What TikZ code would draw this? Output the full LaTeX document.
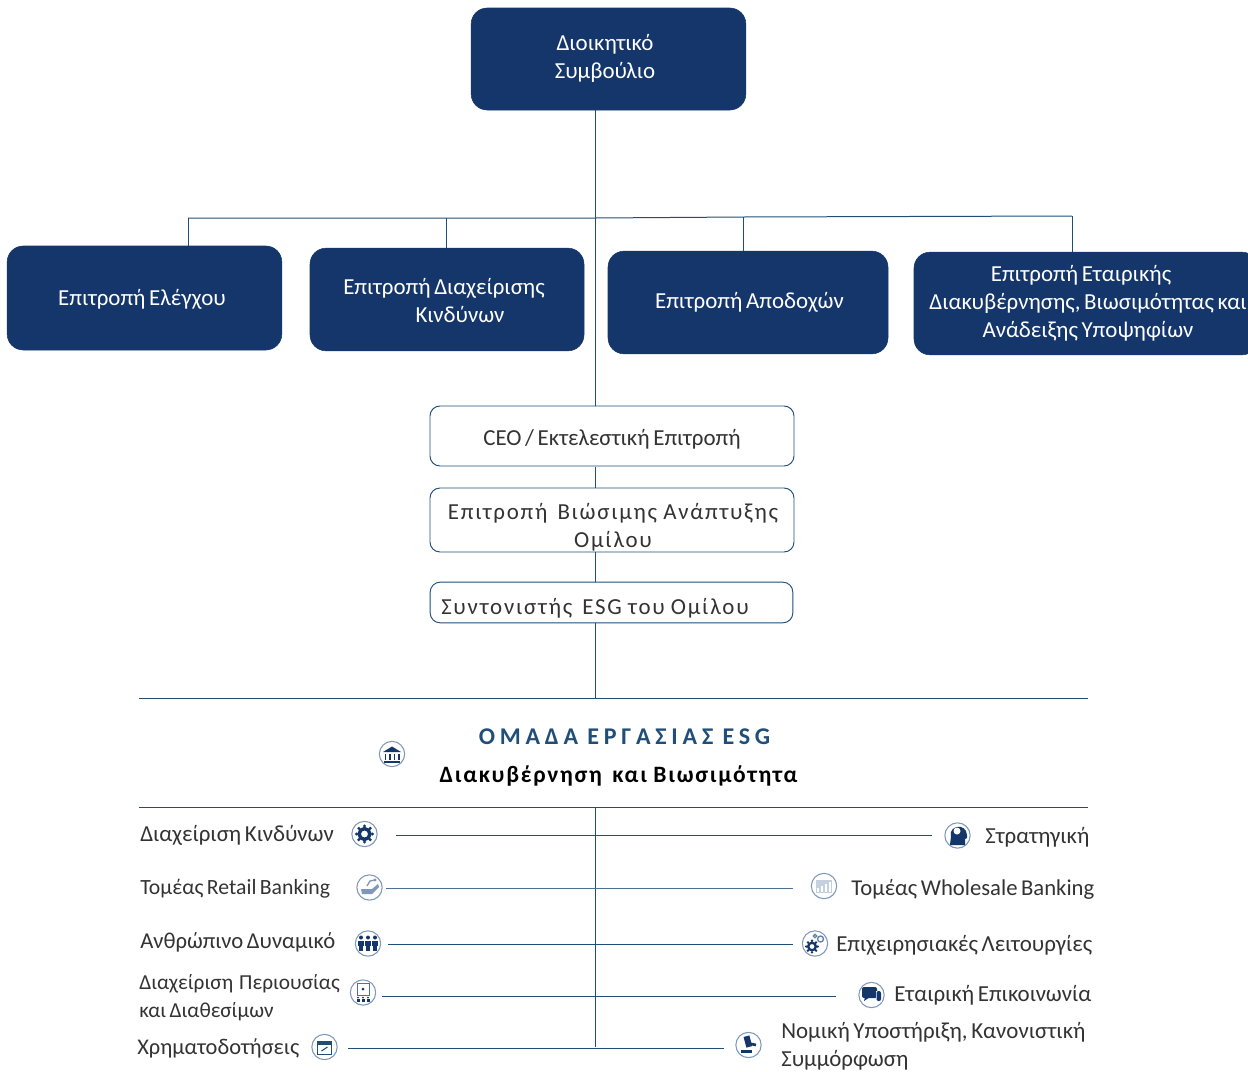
\documentclass[tikz,border=0pt]{standalone}
\usepackage{fontspec}
\setmainfont[WordSpace=0.7]{Carlito}
\newfontfamily\spacedfont[LetterSpace=7.5,WordSpace=0.9]{Carlito}
\newfontfamily\boldspaced[LetterSpace=7.5,WordSpace=0.9,BoldFont=Carlito Bold]{Carlito}
\newfontfamily\widefont[LetterSpace=20,WordSpace=0.9]{Carlito}
\definecolor{navy}{HTML}{14366B}
\definecolor{linec}{HTML}{1F4E79}
\definecolor{ringc}{HTML}{7F97B8}
\definecolor{textc}{HTML}{333333}
\newcommand{\bodysize}{\fontsize{17.2}{21}\selectfont}
\newcommand{\smallsize}{\fontsize{16}{21}\selectfont}
\begin{document}
\begin{tikzpicture}[x=0.75pt,y=-0.75pt,
  darkbox/.style={rectangle,rounded corners=12pt,fill=navy,draw=navy,text=white,align=center,inner sep=0pt,font=\bodysize},
  lightbox/.style={rectangle,rounded corners=7.5pt,fill=white,draw=linec,line width=0.7pt,text=textc,align=center,inner sep=0pt,font=\bodysize},
  conn/.style={draw=linec,line width=0.75pt},
  whitetext/.style={text=white,align=center,inner sep=0pt,font=\bodysize,yshift=-1pt},
  darktext/.style={text=textc,align=center,inner sep=0pt,yshift=-1pt},
  rowlabel/.style={text=textc,align=left,inner sep=0pt,font=\bodysize,yshift=-1pt},
  ring/.style={circle,draw=ringc,fill=white,line width=0.8pt,minimum size=19pt,inner sep=0pt},
  ico/.style={fill=navy,draw=none}]
\useasboundingbox (0,0) rectangle (1248,1071);
\coordinate (trunkA) at (595.5,218);
\coordinate (hL) at (188,218);
\coordinate (hR) at (1072,216);
\coordinate (c2) at (446,218);
\coordinate (c3) at (743,217);
\node[darkbox,minimum width=206pt,minimum height=76.5pt] (board) at (608.5,59) {};
\node[whitetext] (t0) at (605,57) {Διοικητικό\\Συμβούλιο};
\node[darkbox,minimum width=206pt,minimum height=78pt] (elegxou) at (144.5,298) {};
\node[darkbox,minimum width=205.5pt,minimum height=77pt] (kindynon) at (447,299.5) {};
\node[darkbox,minimum width=210pt,minimum height=77pt] (apodoxon) at (748,302.5) {};
\node[darkbox,minimum width=258pt,minimum height=77pt] (etairikis) at (1086,303.5) {};
\node[whitetext] (t1) at (142,298) {Επιτροπή Ελέγχου};
\node[whitetext] (t2) at (444,299) {Επιτροπή Διαχείρισης\\\hspace*{24pt}Κινδύνων};
\node[whitetext] (t3) at (749.5,301) {Επιτροπή Αποδοχών};
\node[whitetext] (t4) at (1088,302) {Επιτροπή Εταιρικής\hspace*{10.5pt}\\Διακυβέρνησης, Βιωσιμότητας και\\Ανάδειξης Υποψηφίων};
\node[lightbox,minimum width=273pt,minimum height=45pt] (ceo) at (612,436) {};
\node[darktext,font=\bodysize] (tceo) at (612,438) {CEO / Εκτελεστική Επιτροπή};
\node[lightbox,minimum width=273pt,minimum height=48pt] (sust) at (612,520) {};
\node[darktext,font=\bodysize\spacedfont] (tsust) at (613,526) {Επιτροπή\hspace{3pt} Βιώσιμης Ανάπτυξης\\Ομίλου};
\node[lightbox,minimum width=272pt,minimum height=30.5pt] (esg) at (611.5,602.5) {};
\node[darktext,anchor=west,font=\bodysize\spacedfont] (tesg) at (441,607) {Συντονιστής\hspace{3pt} ESG του Ομίλου};
\coordinate (boardS) at (595.5,110);
\coordinate (ceoN) at (595.5,406);
\draw[conn] (boardS) -- (ceoN);
\draw[conn] (hL) -- (trunkA) -- (c3) -- (hR);
\draw[conn] (hL) -- (188,246);
\draw[conn] (c2) -- (446,248);
\draw[conn] (c3) -- (743,251);
\draw[conn] (hR) -- (1072,252);
\draw[conn] (595.5,466.5) -- (595.5,488);
\draw[conn] (595.5,552) -- (595.5,582);
\coordinate (ruleJ) at (595.5,698);
\draw[conn] (595.5,623) -- (ruleJ);
\coordinate (r1a) at (139,698); \coordinate (r1b) at (1088,698);
\coordinate (r2a) at (139,807); \coordinate (r2b) at (1088,807);
\draw[conn] (r1a) -- (r1b);
\draw[conn] (r2a) -- (r2b);
\coordinate (spineT) at (595.5,807); \coordinate (spineB) at (595.5,1047);
\draw[conn] (spineT) -- (spineB);
% heading
\node[text=linec,inner sep=0pt,yshift=-0.5pt,font=\fontsize{18}{21}\selectfont\bfseries\widefont] (h1) at (624.5,736) {ΟΜΑΔΑ ΕΡΓΑΣΙΑΣ ESG};
\node[text=black,inner sep=0pt,yshift=-1pt,font=\fontsize{17.6}{21}\selectfont\boldspaced\bfseries] (h2) at (618.5,775) {Διακυβέρνηση\hspace{3pt} και Βιωσιμότητα};
% left labels
\node[rowlabel,anchor=west] (l1) at (140,834) {Διαχείριση Κινδύνων};
\node[rowlabel,anchor=west,font=\fontsize{16.3}{21}\selectfont] (l2) at (140,887) {Τομέας Retail Banking};
\node[rowlabel,anchor=west,font=\fontsize{17}{21}\selectfont] (l3) at (140,941) {Ανθρώπινο Δυναμικό};
\node[rowlabel,anchor=west,font=\smallsize] (l4) at (139,996.5) {Διαχείριση\hspace{2pt} Περιουσίας\\και Διαθεσίμων};
\node[rowlabel,anchor=west,font=\fontsize{16.8}{21}\selectfont] (l5) at (137,1047) {Χρηματοδοτήσεις};
% right labels
\node[rowlabel,anchor=west] (r1) at (985,835.5) {Στρατηγική};
\node[rowlabel,anchor=west,font=\fontsize{17}{21}\selectfont] (r2) at (851,888) {Τομέας Wholesale Banking};
\node[rowlabel,anchor=west] (r3) at (836,944.5) {Επιχειρησιακές Λειτουργίες};
\node[rowlabel,anchor=west] (r4) at (894,994) {Εταιρική Επικοινωνία};
\node[rowlabel,anchor=west] (r5) at (781,1045) {Νομική Υποστήριξη, Κανονιστική\\Συμμόρφωση};
% icon rings
\node[ring] (ibank) at (392,754) {};
\node[ring] (i1) at (364.5,834) {};
\node[ring] (i2) at (369.5,887.5) {};
\node[ring] (i3) at (368,943.5) {};
\node[ring] (i4) at (363,992.5) {};
\node[ring] (i5) at (324.5,1047) {};
\node[ring] (j1) at (957.5,835.5) {};
\node[ring] (j2) at (824,886) {};
\node[ring] (j3) at (815,943.5) {};
\node[ring] (j4) at (871.5,995) {};
\node[ring] (j5) at (748.5,1045) {};
% row connectors
\coordinate (a1) at (396,835); \coordinate (b1) at (932,835);
\draw[conn] (a1) -- (b1);
\coordinate (a2) at (386,888); \coordinate (b2) at (793,888);
\draw[conn,draw=linec!80] (a2) -- (b2);
\coordinate (a3) at (388,944); \coordinate (b3) at (793,944);
\draw[conn] (a3) -- (b3);
\coordinate (a4) at (382,996); \coordinate (b4) at (836,996);
\draw[conn] (a4) -- (b4);
\coordinate (a5) at (348,1048); \coordinate (b5) at (724,1048);
\draw[conn] (a5) -- (b5);
% bank
\fill[ico] (383,752) -- (392,746.5) -- (401,752) -- cycle;
\fill[ico] (384,760.5) rectangle (400,763);
\foreach \x in {385.5,390,394.5,399}{\fill[ico] (\x-1,753.5) rectangle (\x+0.5,760);}
% gear
\foreach \a in {0,45,...,315}{\fill[navy] ([shift={(\a:8)}]i1.center) circle (1.7);}
\draw[navy,line width=2.6pt,fill=white] (i1.center) circle (5.4);
% hand and plant
\fill[ringc] (361,889) -- (372,889) -- (378,884) -- (379,887) -- (372,894) -- (362,894) -- cycle;
\draw[ringc,line width=1pt] (367,886) -- (370,881) -- (375,880);
\fill[ringc] (375,880) circle (1.6);
% people
\foreach \x in {361,368,375}{\fill[ico] (\x,937.5) circle (2);\fill[ico] (\x-2.8,940.5) rectangle (\x+2.8,946);\fill[ico] (\x-1.6,946) rectangle (\x+1.6,951);}
% display board with audience
\draw[ringc!60!navy,line width=0.7pt,fill=white] (357,983.5) rectangle (369,995);
\fill[ico] (363,989) circle (1.5);
\foreach \x in {358,363,368}{\fill[ico] (\x,997.5) circle (1);\fill[ico] (\x-1.5,999) rectangle (\x+1.5,1002);}
% calendar
\draw[linec,line width=0.7pt,fill=white] (317.5,1041) rectangle (331.5,1054);
\fill[linec] (317.5,1041) rectangle (331.5,1044.5);
\draw[linec,line width=0.8pt] (321.5,1051) -- (327.5,1047);
% head
\fill[ico] (950,845) -- (951,836) .. controls (948,826) and (966,822) .. (967,835) -- (967,838) -- (965,839) -- (965,845) -- cycle;
\fill[white] (957,831) circle (3.5);
% chart
\fill[ringc!45] (816,879.5) rectangle (832,893);
\foreach \x/\h in {818/888,822/886,826/884,830/882}{\fill[white] (\x-1,\h) rectangle (\x+1,891.5);}
% gears
\foreach \a in {0,45,...,315}{\fill[navy] ([shift={(\a:5.8)}]812,946.5) circle (1.3);}
\draw[navy,line width=1.8pt,fill=white] (812,946.5) circle (3.8);
\draw[linec!70,line width=1pt] (820.5,939) circle (3);
\draw[linec!70,line width=1pt] (815,936) circle (1.7);
% chat bubbles
\fill[ico,rounded corners=1.5pt] (862,987) rectangle (877,998);
\fill[ico] (865,997) -- (864,1001) -- (870,997) -- cycle;
\fill[white] (875.5,991) rectangle (881.5,1001.5);
\fill[ico,rounded corners=1.5pt] (876.5,991) rectangle (881,1001);
% gavel
\draw[navy,line width=2pt] (747,1043) -- (756,1045);
\fill[ico,rotate around={15:(748,1042)}] (745,1036) rectangle (751,1047);
\fill[ico] (741,1049.5) rectangle (752,1053);
\end{tikzpicture}
\end{document}
